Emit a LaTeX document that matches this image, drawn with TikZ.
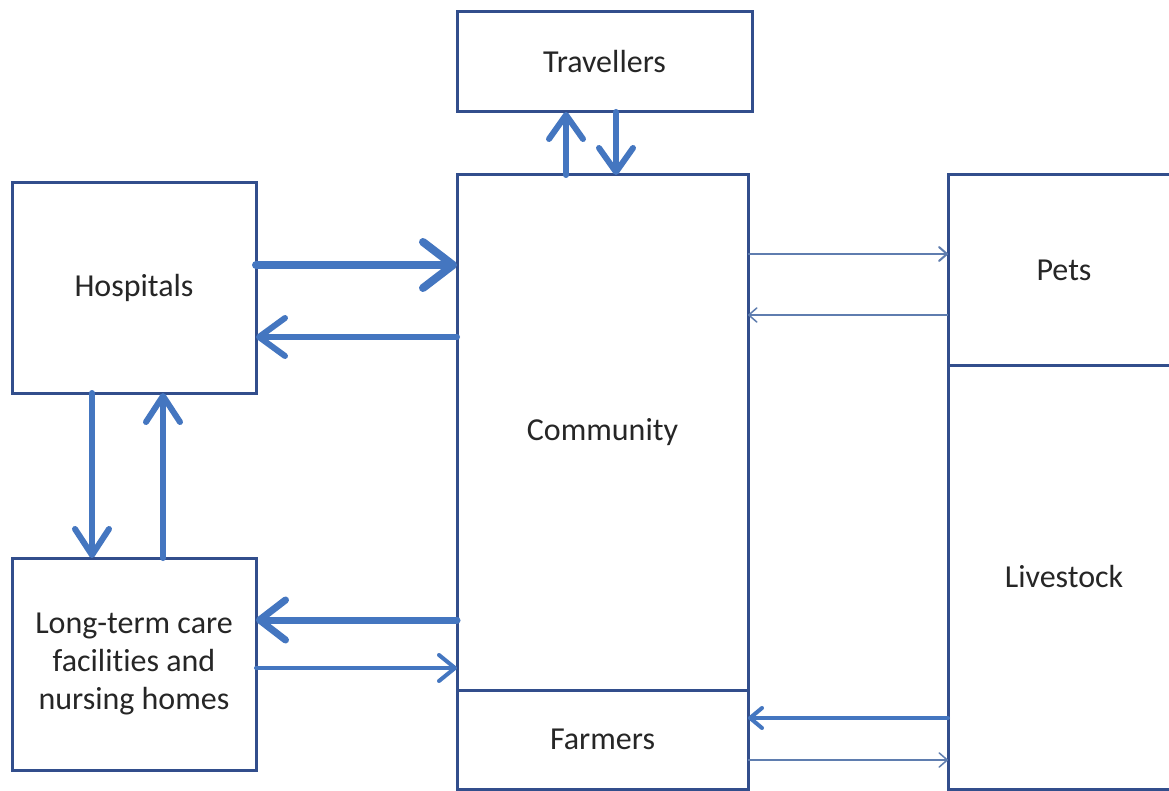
\documentclass[tikz,border=0pt]{standalone}
\usepackage{fontspec}
\setmainfont[Ligatures=NoCommon]{Carlito}
\usetikzlibrary{arrows.meta}
\definecolor{boxblue}{RGB}{50,78,140}
\definecolor{arrblue}{RGB}{68,118,192}
\definecolor{thinblue}{RGB}{95,125,175}
\tikzset{
  box/.style={draw=boxblue, line width=3pt, rectangle, inner sep=0pt, outer sep=0pt,
    align=center, font=\fontsize{32}{38}\selectfont, text=black!85},
  flow/.style n args={3}{draw=arrblue, line width=#1, line cap=round,
    -{Straight Barb[round, length=#2, width=#3]}},
  thinflow/.style n args={3}{draw=thinblue, line width=#1,
    -{Straight Barb[round, length=#2, width=#3]}}
}
\begin{document}
\begin{tikzpicture}[x=1pt,y=-1pt]
\useasboundingbox (0,0) rectangle (1169,791);
\clip (0,0) rectangle (1169,791);
\fill[white] (0,0) rectangle (1169,791);
\node[box, minimum width=295pt, minimum height=100pt] (trav) at (604.5,62) {Travellers};
\node[box, minimum width=291pt, minimum height=515pt] (comm) at (602.5,432.5) {Community};
\node[box, minimum width=291pt, minimum height=99pt] (farm) at (602.5,739.5) {Farmers};
\node[box, minimum width=244pt, minimum height=210pt] (hosp) at (134,288) {Hospitals};
\node[box, minimum width=244pt, minimum height=212pt] (ltc) at (134,664) {Long-term care\\facilities and\\nursing homes};
\node[box, minimum width=232pt, minimum height=190pt] (pets) at (1064,270) {Pets};
\node[box, minimum width=232pt, minimum height=424pt] (live) at (1064,577) {Livestock};

% travellers
\draw[flow={6pt}{24pt}{34pt}] (comm.north -| 566,0) -- (trav.south -| 566,0);
\draw[flow={6pt}{24pt}{34pt}] (trav.south -| 616,0) -- (comm.north -| 616,0);
% hospitals <-> community
\draw[flow={8pt}{30pt}{46pt}] (hosp.east |- 0,265) -- (comm.west |- 0,265);
\draw[flow={6pt}{26pt}{38pt}] (comm.west |- 0,337) -- (hosp.east |- 0,337);
% hospitals <-> ltc
\draw[flow={6pt}{26pt}{34pt}] (hosp.south -| 92,0) -- (ltc.north -| 92,0);
\draw[flow={6pt}{26pt}{34pt}] (ltc.north -| 163,0) -- (hosp.south -| 163,0);
% ltc <-> community
\draw[flow={7pt}{26pt}{40pt}] (comm.west |- 0,620) -- (ltc.east |- 0,620);
\draw[flow={4pt}{16pt}{26pt}] (ltc.east |- 0,668) -- (comm.west |- 0,668);
% community <-> pets
\draw[thinflow={2pt}{8pt}{14pt}] (comm.east |- 0,254) -- (pets.west |- 0,254);
\draw[thinflow={1.5pt}{8pt}{14pt}] (pets.west |- 0,315) -- (comm.east |- 0,315);
% livestock <-> farmers
\draw[flow={4pt}{12pt}{20pt}] (live.west |- 0,718) -- (farm.east |- 0,718);
\draw[thinflow={1.5pt}{8pt}{14pt}] (farm.east |- 0,760) -- (live.west |- 0,760);
\end{tikzpicture}
\end{document}
